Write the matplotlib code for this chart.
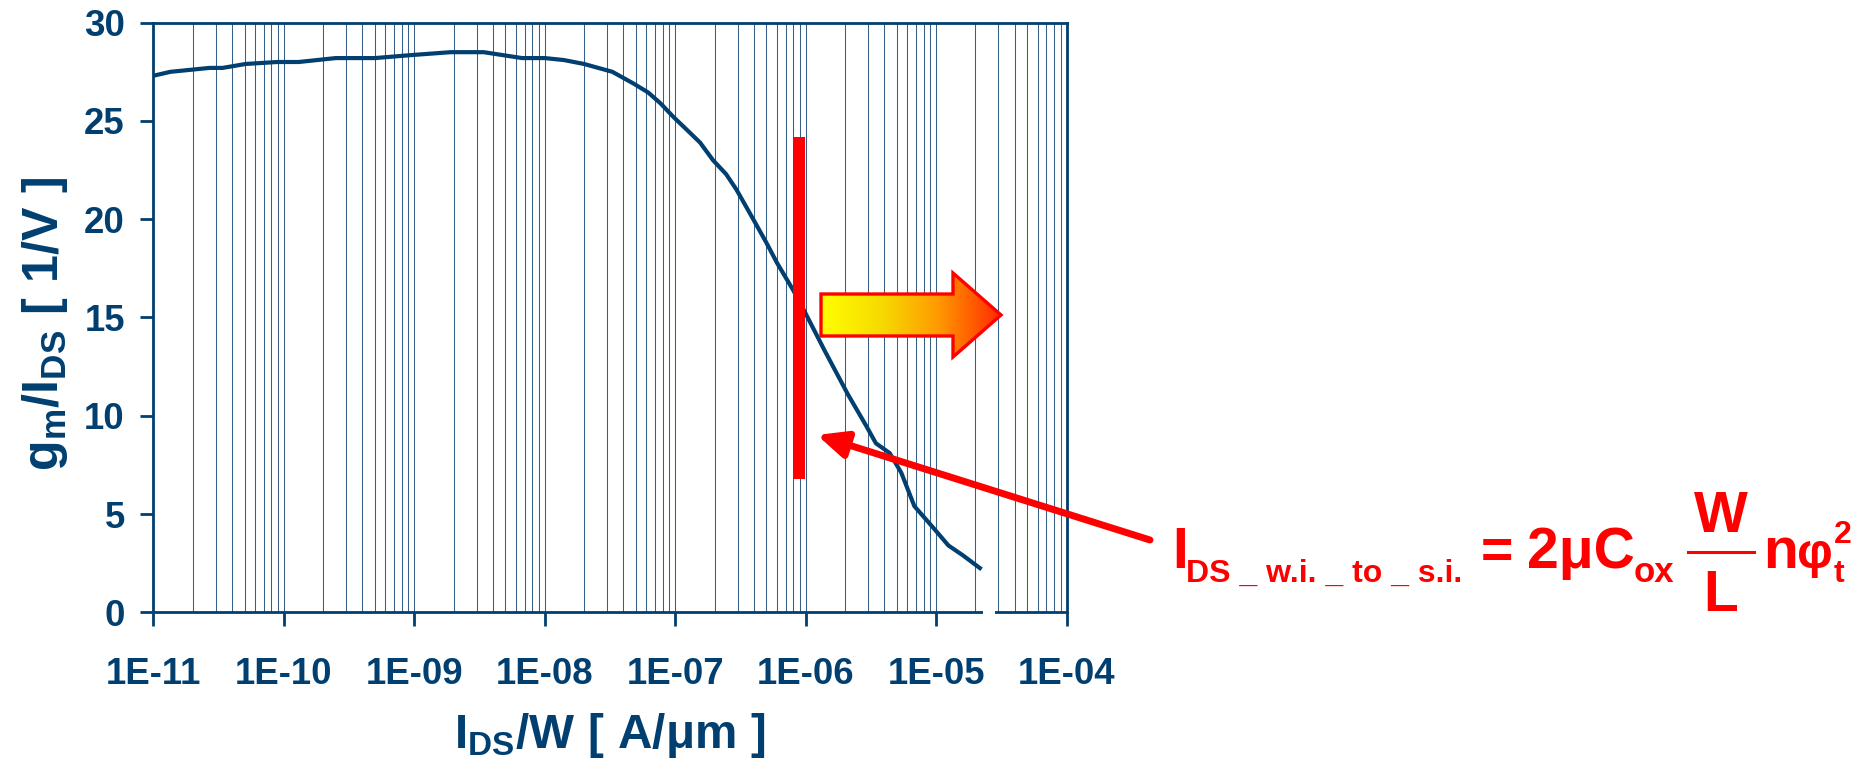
import matplotlib
matplotlib.use("Agg")
import matplotlib.pyplot as plt
import numpy as np
from matplotlib import font_manager
from matplotlib.ticker import FixedLocator, LogLocator, NullFormatter
from matplotlib.patches import Polygon, Rectangle, FancyArrowPatch
from matplotlib.colors import LinearSegmentedColormap

# condensed bold face for the axes text if it is installed
names = {f.name for f in font_manager.fontManager.ttflist}
narrow = 'Liberation Sans Narrow' in names
axis_font = 'Liberation Sans Narrow' if narrow else 'Liberation Sans'
k = 1.0 if narrow else 0.88

plt.rcParams['font.family'] = ['Liberation Sans', 'DejaVu Sans']
plt.rcParams['font.weight'] = 'bold'
plt.rcParams['mathtext.fontset'] = 'custom'
plt.rcParams['mathtext.rm'] = axis_font + ':bold'
plt.rcParams['mathtext.it'] = axis_font + ':bold'
plt.rcParams['mathtext.bf'] = axis_font + ':bold'

# gm/IDS versus normalised drain current
ids_w = [1.0e-11, 1.35e-11, 2.7e-11, 3.4e-11, 5.1e-11, 8.9e-11, 1.3e-10, 2.5e-10,
         5.0e-10, 9.4e-10, 1.9e-9, 3.4e-9, 6.7e-9, 1.0e-8, 1.4e-8, 2.0e-8, 3.3e-8,
         4.8e-8, 6.2e-8, 7.7e-8, 9.7e-8, 1.25e-7, 1.55e-7, 1.95e-7, 2.45e-7, 2.95e-7,
         3.96e-7, 5.0e-7, 6.0e-7, 8.0e-7, 9.9e-7, 1.4e-6, 2.1e-6, 2.9e-6, 3.45e-6,
         4.4e-6, 5.4e-6, 6.8e-6, 9.5e-6, 1.24e-5, 1.6e-5, 2.16e-5]
gm_id = [27.3, 27.5, 27.7, 27.7, 27.9, 28.0, 28.0, 28.2,
         28.2, 28.35, 28.5, 28.5, 28.2, 28.2, 28.1, 27.9, 27.5,
         26.9, 26.45, 25.9, 25.2, 24.5, 23.9, 23.0, 22.3, 21.5,
         20.0, 18.8, 17.8, 16.4, 15.25, 13.3, 11.1, 9.5, 8.6,
         8.1, 7.1, 5.4, 4.3, 3.4, 2.9, 2.25]

x_ticks = [1e-11, 1e-10, 1e-9, 1e-8, 1e-7, 1e-6, 1e-5, 1e-4]
x_ticklabels = ["1E-11", "1E-10", "1E-09", "1E-08", "1E-07", "1E-06", "1E-05", "1E-04"]
y_ticks = [0, 5, 10, 15, 20, 25, 30]

# transition marker (weak -> strong inversion)
bar_x = [7.94e-7, 9.87e-7]
bar_y = [6.76, 24.2]

blue = '#003F6F'
red = '#FF0000'
W, H = 1864, 774

fig = plt.figure(figsize=(W / 100, H / 100), dpi=100)
ax = fig.add_axes([153.3 / W, 1 - 612.3 / H, 913.4 / W, 589.6 / H])

ax.plot(ids_w, gm_id, color=blue, lw=3.0, zorder=3)
ax.set_xscale('log')
ax.set_xlim(x_ticks[0], x_ticks[-1])
ax.set_ylim(y_ticks[0], y_ticks[-1])

ax.xaxis.set_major_locator(FixedLocator(x_ticks))
ax.set_xticklabels(x_ticklabels)
ax.xaxis.set_minor_locator(LogLocator(base=10, subs=np.arange(2, 10)))
ax.xaxis.set_minor_formatter(NullFormatter())
ax.set_yticks(y_ticks)
for lab in ax.get_xticklabels() + ax.get_yticklabels():
    lab.set_family([axis_font, 'Liberation Sans'])

ax.grid(True, which='both', axis='x', color='#1F4E7A', lw=0.75, alpha=0.9)
ax.set_axisbelow(True)

for s in ax.spines.values():
    s.set_color(blue)
    s.set_linewidth(2.0)

ax.tick_params(axis='x', which='major', length=10, width=2, color=blue,
               labelsize=30 * k, labelcolor=blue, pad=22)
ax.tick_params(axis='y', which='major', length=9.5, width=2, color=blue,
               labelsize=30 * k, labelcolor=blue, pad=11)
ax.tick_params(which='minor', length=0)

ax.set_xlabel(r'$\mathbf{I_{DS}/W\ [\ A/μm\ ]}$', fontsize=39 * k, color=blue)
ax.xaxis.set_label_coords(0.5, -0.168)
ax.set_ylabel(r'$\mathbf{g_{m}/I_{DS}\ [\ 1/V\ ]}$', fontsize=41 * k, color=blue)
ax.yaxis.set_label_coords(-0.091, 0.49)

ax.add_patch(Rectangle((bar_x[0], bar_y[0]), bar_x[1] - bar_x[0], bar_y[1] - bar_y[0],
                       facecolor=red, edgecolor='none', zorder=6))

# overlay in pixel coordinates for the annotations
ov = fig.add_axes([0, 0, 1, 1], zorder=5)
ov.set_xlim(0, W)
ov.set_ylim(H, 0)
ov.axis('off')
ov.patch.set_visible(False)

# small white patch where the curve ends
ov.add_patch(Rectangle((983, 470), 12, 146, facecolor='white', edgecolor='none'))

# big gradient arrow
pts = [(821, 294), (953, 294), (953, 273), (1001, 315), (953, 357), (953, 336), (821, 336)]
cmap = LinearSegmentedColormap.from_list('arr', [(0, '#FFFF00'), (0.35, '#F7D800'),
                                                 (0.65, '#FF9A00'), (1, '#FF2A00')])
grad = np.linspace(0, 1, 256).reshape(1, -1)
im = ov.imshow(grad, cmap=cmap, extent=[821, 1001, 357, 273], aspect='auto', zorder=2)
clip = Polygon(pts, closed=True, transform=ov.transData, facecolor='none', edgecolor='none')
ov.add_patch(clip)
im.set_clip_path(clip)
ov.add_patch(Polygon(pts, closed=True, facecolor='none', edgecolor=red, lw=2.4, zorder=3,
                     joinstyle='miter'))
ov.set_xlim(0, W)
ov.set_ylim(H, 0)

# pointer arrow
ov.add_patch(FancyArrowPatch((1150, 540), (817, 435), arrowstyle='-|>,head_length=1.1,head_width=0.5',
                             mutation_scale=16, color=red, lw=5, shrinkA=0, shrinkB=0, zorder=4))

# formula
fk = dict(color=red, fontweight='bold', va='baseline', ha='left')
ov.text(1172, 568, 'I', fontsize=41, **fk)
ov.text(1185.5, 582, 'DS _ w.i. _ to _ s.i.', fontsize=23, **fk)
ov.text(1481, 568, '=', fontsize=40, **fk)
ov.text(1527, 568, '2μC', fontsize=41, **fk)
ov.text(1634, 582, 'ox', fontsize=25, **fk)
ov.text(1721, 532, 'W', fontsize=41, color=red, fontweight='bold', va='baseline', ha='center')
ov.plot([1688, 1754], [552, 552], color=red, lw=2.2)
ov.text(1721, 611, 'L', fontsize=41, color=red, fontweight='bold', va='baseline', ha='center')
ov.text(1763, 568, 'n', fontsize=41, **fk)
ov.text(1797, 568, 'φ', fontsize=36, **fk)
ov.text(1834, 543, '2', fontsize=23, **fk)
ov.text(1834, 582, 't', fontsize=23, **fk)

fig.savefig('out.png', dpi=100, facecolor='white')
